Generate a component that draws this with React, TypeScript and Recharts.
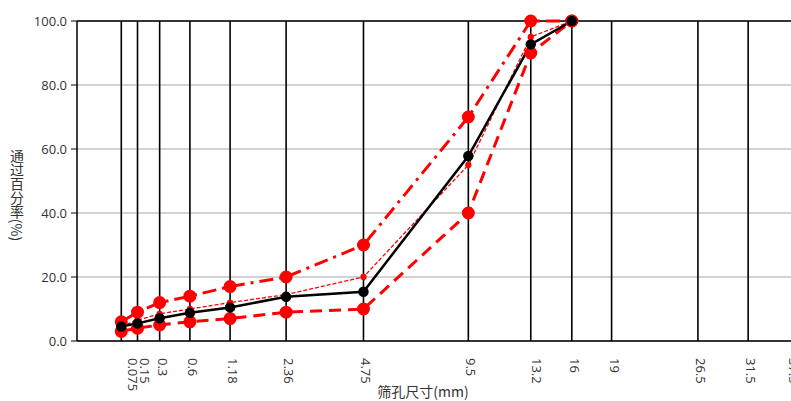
import React from 'react';
import { ComposedChart, Line, XAxis, YAxis, CartesianGrid, ReferenceLine, Customized } from 'recharts';

// sieve sizes (mm) and their tick labels
const SIEVES = [0.075, 0.15, 0.3, 0.6, 1.18, 2.36, 4.75, 9.5, 13.2, 16, 19, 26.5, 31.5, 37.5];
const SIEVE_LABELS = ['0.075', '0.15', '0.3', '0.6', '1.18', '2.36', '4.75', '9.5', '13.2', '16', '19', '26.5', '31.5', '37.5'];

// passing percent per sieve (only up to 16mm)
const PASSING = [4.5, 5.5, 7.1, 8.8, 10.5, 13.8, 15.4, 57.8, 92.7, 100];
const UPPER = [6, 9, 12, 14, 17, 20, 30, 70, 100, 100];
const LOWER = [3, 4, 5, 6, 7, 9, 10, 40, 90, 100];
const MEDIAN = [4.5, 6.5, 8.5, 10, 12, 14.5, 20, 55, 95, 100];

const Y_TICKS = [0, 20, 40, 60, 80, 100];

// gradation charts use a 0.45 power x scale
const EXP = 0.45;
const toX = (d: number) => Math.pow(d, EXP);

const data = SIEVES.map((s, i) => ({
  x: toX(s),
  passing: PASSING[i],
  upper: UPPER[i],
  lower: LOWER[i],
  median: MEDIAN[i],
}));

const RED = '#ff0000';
const FONT = '"Open Sans", "Noto Sans", sans-serif';
const CJK = '"Noto Sans CJK SC", sans-serif';

// small nudges so labels sit like the original
const LABEL_SHIFT: Record<number, number> = { 0: 9, 1: 4, 8: 3, 13: -12 };

const SieveTick = (props: any) => {
  const { x, y, index } = props;
  const tx = x + 3 + (LABEL_SHIFT[index] ?? 0);
  const ty = y + 9;
  return (
    <text
      x={tx}
      y={ty}
      transform={`rotate(90, ${tx}, ${ty})`}
      textAnchor="start"
      dominantBaseline="central"
      fontSize={13}
      fontFamily={FONT}
      fill="#333"
    >
      {SIEVE_LABELS[index]}
    </text>
  );
};

const Titles = () => (
  <g>
    <text x={423} y={391} textAnchor="middle" dominantBaseline="central" fontSize={14} fontFamily={CJK} fill="#333">
      筛孔尺寸(mm)
    </text>
    <text x={17} y={195} writingMode="tb" textAnchor="middle" fontSize={14} fontFamily={CJK} fill="#333">
      通过百分率(%)
    </text>
  </g>
);

export default function App() {
  return (
    <div style={{ position: 'fixed', left: 0, top: 0, width: 791, height: 401, overflow: 'hidden', background: '#fff' }}>
      <ComposedChart width={830} height={401} data={data} margin={{ top: 21, right: 7, left: 7, bottom: 10 }}>
        <CartesianGrid vertical={false} stroke="#a6a6a6" strokeWidth={1} />
        <XAxis
          dataKey="x"
          type="number"
          domain={[0, 5.25]}
          allowDataOverflow
          ticks={SIEVES.map(toX)}
          tick={<SieveTick />}
          tickLine={false}
          axisLine={{ stroke: '#000', strokeWidth: 1.5 }}
          height={50}
          interval={0}
        />
        <YAxis
          type="number"
          domain={[0, 100]}
          ticks={Y_TICKS}
          width={70}
          tickFormatter={(v: number) => v.toFixed(1)}
          tick={{ fontSize: 13, fontFamily: FONT, fill: '#333' }}
          tickLine={{ stroke: '#000' }}
          tickSize={6}
          tickMargin={4}
          axisLine={{ stroke: '#000', strokeWidth: 1.5 }}
        />
        <ReferenceLine y={100} stroke="#000" strokeWidth={1.5} />
        {SIEVES.map((s) => (
          <ReferenceLine key={s} x={toX(s)} stroke="#000" strokeWidth={1.6} />
        ))}
        <Line
          dataKey="lower"
          stroke={RED}
          strokeWidth={3}
          strokeDasharray="12 7"
          dot={{ r: 5, fill: RED, stroke: RED, strokeDasharray: '' }}
          isAnimationActive={false}
        />
        <Line
          dataKey="upper"
          stroke={RED}
          strokeWidth={3}
          strokeDasharray="14 6 3 6"
          dot={{ r: 5, fill: RED, stroke: RED, strokeDasharray: '' }}
          isAnimationActive={false}
        />
        <Line
          dataKey="median"
          stroke={RED}
          strokeWidth={1.3}
          strokeDasharray="4 2"
          dot={{ r: 2.5, fill: RED, stroke: RED, strokeDasharray: '' }}
          isAnimationActive={false}
        />
        <Line
          dataKey="passing"
          stroke="#000"
          strokeWidth={2.5}
          dot={{ r: 4, fill: '#000', stroke: '#000' }}
          isAnimationActive={false}
        />
        <Customized component={Titles} />
      </ComposedChart>
    </div>
  );
}
